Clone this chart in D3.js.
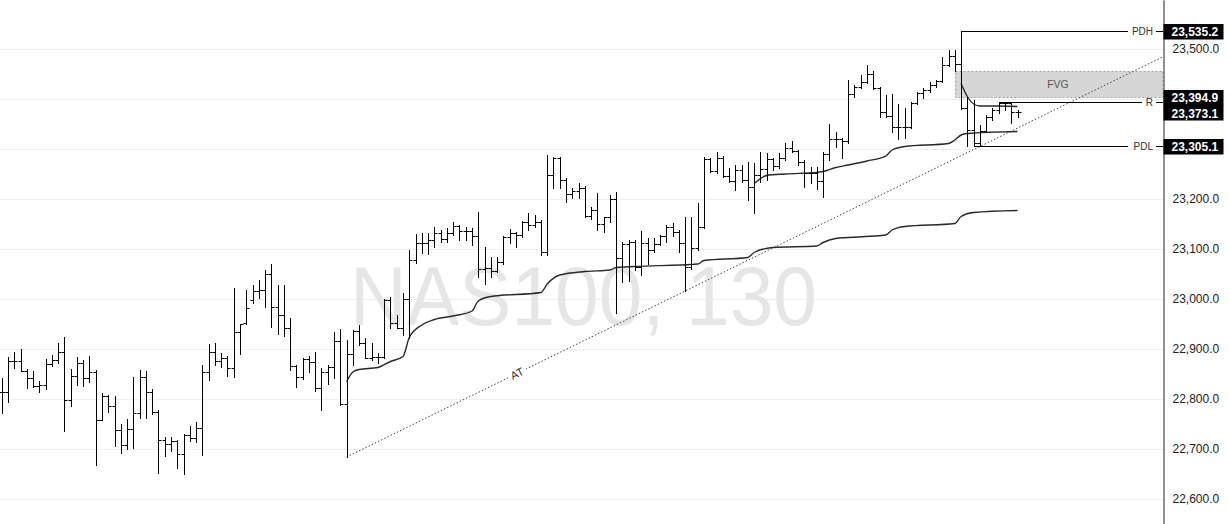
<!DOCTYPE html>
<html><head><meta charset="utf-8">
<script src="https://cdn.jsdelivr.net/npm/d3@7"></script>
<style>
html,body{margin:0;padding:0;background:#fff;}
svg{display:block;font-family:"Liberation Sans",Arial,sans-serif;}
</style></head><body>
<svg id="chart" width="1229" height="524"></svg>
<script>
// ---------- DATA (NAS100, 130-minute OHLC) ----------
const open = [
22814,22814,22876,22876,22856,22842,22826,22828,22870,22878,
22894,22798,22846,22872,22842,22854,22758,22806,22786,22738,
22708,22740,22772,22844,22814,22774,22718,22710,22716,22690,
22728,22722,22742,22854,22894,22876,22882,22862,22934,22952,
22998,23016,23018,23050,22984,22968,22942,22866,22844,22880,
22874,22822,22854,22864,22916,22790,22890,22936,22912,22882,
22884,22884,22998,22952,22942,23000,23078,23112,23112,23118,
23132,23120,23132,23146,23136,23136,23126,23060,23062,23056,
23074,23124,23132,23128,23154,23148,23154,23094,23248,23282,
23238,23210,23216,23222,23166,23178,23150,23164,23200,23082,
23110,23114,23064,23112,23098,23110,23126,23144,23134,23112,
23064,23102,23144,23280,23256,23282,23246,23236,23258,23238,
23224,23248,23260,23280,23266,23282,23302,23296,23274,23252,
23252,23236,23290,23320,23320,23316,23410,23424,23434,23450,
23422,23374,23366,23344,23344,23344,23392,23412,23418,23428,
23436,23468,23486,23470,23382,23338,23312,23336,23364,23378,
23392,23392,23374
];
const high = [
22842,22884,22894,22900,22860,22856,22836,22880,22888,22912,
22924,22860,22884,22878,22886,22858,22812,22808,22806,22750,
22760,22844,22858,22856,22820,22778,22724,22724,22718,22730,
22746,22754,22868,22910,22912,22892,22886,23022,22950,23018,
23028,23038,23058,23070,23028,23028,22962,22868,22882,22886,
22894,22862,22868,22934,22940,22918,22938,22948,22922,22912,
22892,23000,23004,22968,23012,23098,23130,23132,23132,23144,
23138,23142,23154,23148,23144,23142,23174,23104,23084,23084,
23126,23140,23134,23156,23172,23168,23158,23288,23284,23284,
23242,23222,23232,23226,23184,23212,23164,23208,23214,23114,
23118,23118,23136,23122,23122,23128,23148,23152,23138,23164,
23164,23192,23284,23282,23294,23286,23262,23268,23268,23274,
23272,23294,23292,23282,23292,23312,23316,23298,23278,23264,
23264,23294,23350,23334,23322,23438,23428,23448,23468,23456,
23424,23408,23410,23390,23382,23394,23414,23422,23434,23438,
23484,23498,23498,23535.2,23404,23398,23348,23368,23382,23394.9,
23394,23393,23378
];
const low = [
22772,22794,22862,22856,22822,22824,22814,22820,22866,22872,
22736,22786,22828,22826,22834,22668,22758,22774,22706,22692,
22700,22702,22762,22762,22770,22652,22686,22696,22662,22650,
22716,22714,22688,22838,22868,22864,22846,22844,22890,22950,
22992,23002,22984,22944,22930,22926,22858,22824,22840,22854,
22816,22778,22830,22842,22788,22684,22868,22908,22882,22878,
22872,22882,22942,22942,22928,22922,23072,23092,23090,23104,
23114,23114,23128,23118,23118,23108,23044,23030,23044,23054,
23070,23112,23104,23124,23138,23144,23088,23088,23222,23222,
23194,23202,23202,23164,23160,23138,23134,23154,22972,23034,
23036,23058,23048,23070,23094,23108,23114,23126,23094,23016,
23060,23098,23142,23254,23252,23244,23234,23218,23234,23198,
23172,23234,23238,23258,23262,23278,23294,23268,23224,23232,
23220,23204,23278,23304,23282,23312,23404,23422,23432,23420,
23364,23364,23334,23320,23322,23342,23390,23402,23414,23424,
23434,23466,23456,23380,23306,23305.1,23306,23334,23358,23372,
23378,23352,23364
];
const close = [
22814,22876,22876,22856,22842,22826,22828,22870,22878,22894,
22798,22846,22872,22842,22854,22758,22806,22786,22738,22708,
22740,22772,22844,22814,22774,22718,22710,22716,22690,22728,
22722,22742,22854,22894,22876,22882,22862,22934,22950,22982,
23016,23018,23050,22984,22968,22942,22866,22844,22880,22874,
22822,22854,22864,22916,22790,22890,22936,22912,22882,22884,
22884,22998,22952,22942,23000,23078,23112,23112,23118,23132,
23120,23132,23146,23136,23136,23126,23060,23062,23056,23074,
23124,23132,23128,23154,23148,23154,23094,23248,23282,23238,
23210,23216,23222,23166,23178,23150,23164,23200,23082,23110,
23114,23064,23112,23098,23110,23126,23144,23134,23112,23064,
23102,23144,23280,23256,23282,23246,23236,23258,23238,23224,
23248,23260,23280,23266,23282,23302,23296,23274,23252,23252,
23236,23290,23320,23320,23316,23410,23424,23434,23450,23422,
23374,23366,23344,23344,23344,23392,23412,23418,23428,23436,
23468,23486,23470,23382,23338,23312,23336,23364,23378,23392,
23392,23374,23373.1
];

// Anchored VWAP (from the swing low) – readings at bar indices
const vwapLowIdx = [55,56,57,60,62,64,65,67,69,72,75,76,78,86,87,89,93,97,98,101,111,112,119,120,123,130,131,133,135,141,142,144,152,153,155,162];
const vwapLowVal = [22835,22854,22859,22863,22875,22885,22923,22948,22959,22966,22976,22996,23005,23013,23030,23048,23055,23058,23063,23065,23070,23077,23083,23093,23103,23106,23113,23121,23123,23128,23138,23145,23151,23165,23173,23177];
// Session VWAP (previous day start)
const vwapSessIdx = [120,122,125,130,131,133,135,138,141,142,144,151,152,153,154,162];
const vwapSessVal = [23231,23247,23250,23253,23255,23263,23268,23276,23286,23298,23305,23311,23318,23328,23331,23335];
// Session VWAP (current day start)
const vwapDayIdx = [153,154,155,156,159,162];
const vwapDayVal = [23431,23405,23390,23386,23386,23385];

// Levels
const levelNames  = ["PDH","R","PDL"];
const levelValues = [23535.2,23394.9,23305.1];
const levelStart  = [153,159,155];
const lastPrice = 23373.1;
// FVG
const fvgStart = 152, fvgTop = 23456, fvgBottom = 23404;
// AT trendline anchors (bar indices of two swing lows)
const atIdx = [55,109];
// Axis ticks
const yTicks = [22600,22700,22800,22900,23000,23100,23200,23300,23400,23500];
const gridTicks = [22600,22700,22800,22900,23000,23100,23200,23400,23500];
const watermark = "NAS100, 130";

// ---------- LAYOUT ----------
const W = 1229, H = 524, plotR = 1163;
const svg = d3.select("#chart");
svg.append("rect").attr("width",W).attr("height",H).attr("fill","#fff");

const x = d3.scaleLinear().domain([0,162]).range([1.7,1017.5]);
const y = d3.scaleLinear().domain([22550,23598]).range([H,0]);
const cx = v => Math.round(x(v)) + 0.5;
const cy = v => Math.round(y(v)) + 0.5;

// grid
svg.append("g").selectAll("line").data(yTicks).join("line")
  .attr("x1",0).attr("x2",plotR).attr("y1",d=>cy(d)).attr("y2",d=>cy(d))
  .attr("stroke","#eeeeee").attr("stroke-width",1);

// watermark
svg.append("text").attr("x",350).attr("y",325)
  .attr("font-size",84).attr("fill","#e6e6e6")
  .attr("textLength",467).attr("lengthAdjust","spacingAndGlyphs")
  .text(watermark);

// FVG box
svg.append("rect")
  .attr("x",cx(fvgStart)).attr("y",cy(fvgTop))
  .attr("width",plotR - cx(fvgStart)).attr("height",y(fvgBottom)-y(fvgTop))
  .attr("fill","#d6d6d6").attr("stroke","#a0a0a0").attr("stroke-dasharray","2,2").attr("stroke-width",1);
svg.append("text").attr("x",1058).attr("y",(y(fvgTop)+y(fvgBottom))/2+3.5)
  .attr("text-anchor","middle").attr("font-size",10.5).attr("fill","#555").text("FVG");

// AT trendline
const a0 = atIdx[0], a1 = atIdx[1];
const p0 = [x(a0), y(low[a0])], p1 = [x(a1), y(low[a1])];
const slope = (p1[1]-p0[1])/(p1[0]-p0[0]);
const xEnd = plotR;
svg.append("line").attr("x1",p0[0]).attr("y1",p0[1]).attr("x2",xEnd).attr("y2",p0[1]+slope*(xEnd-p0[0]))
  .attr("stroke","#444").attr("stroke-width",1).attr("stroke-dasharray","1.5,2");
const lx = 517, ly = p0[1]+slope*(lx-p0[0]);
const ang = Math.atan(slope)*180/Math.PI;
const atG = svg.append("g").attr("transform",`translate(${lx},${ly}) rotate(${ang})`);
atG.append("rect").attr("x",-10).attr("y",-6).attr("width",20).attr("height",12).attr("fill","#fff");
atG.append("text").attr("text-anchor","middle").attr("y",4).attr("font-size",11).attr("fill","#333").text("AT");

// level lines
levelNames.forEach((n,i)=>{
  const yy = cy(levelValues[i]);
  const labelRight = 1153;
  const nameW = n.length===1 ? 7 : 21;
  svg.append("line").attr("x1",cx(levelStart[i])).attr("x2",labelRight-nameW-4)
    .attr("y1",yy).attr("y2",yy).attr("stroke","#000").attr("stroke-width",1);
  svg.append("line").attr("x1",1156).attr("x2",plotR).attr("y1",yy).attr("y2",yy)
    .attr("stroke","#000").attr("stroke-width",1);
  svg.append("text").attr("x",labelRight).attr("y",yy+3.5).attr("text-anchor","end")
    .attr("font-size",10).attr("fill","#333").text(n);
});
// PDH vertical connector at its bar is the bar itself

// VWAP lines
const line = d3.line().x(d=>x(d[0])).y(d=>y(d[1])).curve(d3.curveMonotoneX);
[[vwapLowIdx,vwapLowVal],[vwapSessIdx,vwapSessVal],[vwapDayIdx,vwapDayVal]].forEach(([I,V])=>{
  svg.append("path").datum(I.map((d,k)=>[d,V[k]]))
    .attr("d",line).attr("fill","none").attr("stroke","#2a2a2a").attr("stroke-width",1.4);
});

// OHLC bars
const bars = svg.append("g").attr("stroke","#000").attr("stroke-width",1);
d3.range(open.length).forEach(i=>{
  const xx = cx(i);
  bars.append("line").attr("x1",xx).attr("x2",xx).attr("y1",Math.round(y(high[i]))).attr("y2",Math.round(y(low[i]))+1);
  bars.append("line").attr("x1",xx-3).attr("x2",xx).attr("y1",cy(open[i])).attr("y2",cy(open[i]));
  bars.append("line").attr("x1",xx).attr("x2",xx+3).attr("y1",cy(close[i])).attr("y2",cy(close[i]));
});

// right axis
const axis = d3.axisRight(y).tickValues(yTicks).tickSize(0).tickPadding(9).tickFormat(d3.format(",.1f"));
const ag = svg.append("g").attr("transform",`translate(${plotR+0.5},0)`).call(axis);
ag.select(".domain").attr("stroke","#222");
ag.selectAll("text").attr("font-size",12).attr("fill","#222").attr("font-family","'Liberation Sans',Arial,sans-serif");
// hide tick labels hidden by price labels
ag.selectAll(".tick").filter(d=>d===23300||d===23400).remove();

// price labels
const lblVals = [levelValues[0], levelValues[1], lastPrice, levelValues[2]];
let lblY = lblVals.map(v=>y(v));
// resolve overlap between R and last price
const hgt = 15.5;
if (lblY[2]-lblY[1] < hgt) { const mid=(lblY[1]+lblY[2])/2; lblY[1]=mid-hgt/2-1.5; lblY[2]=mid+hgt/2-1.5; }
const fmt = d3.format(",.1f");
lblVals.forEach((v,i)=>{
  const yy = lblY[i];
  svg.append("rect").attr("x",plotR+0.5).attr("y",Math.round(yy-hgt/2)).attr("width",60).attr("height",hgt).attr("fill","#000");
  svg.append("text").attr("x",1171.5).attr("y",yy+4.3).attr("font-size",12).attr("font-weight","bold")
    .attr("fill","#fff").text(fmt(v));
});
</script>
</body></html>
